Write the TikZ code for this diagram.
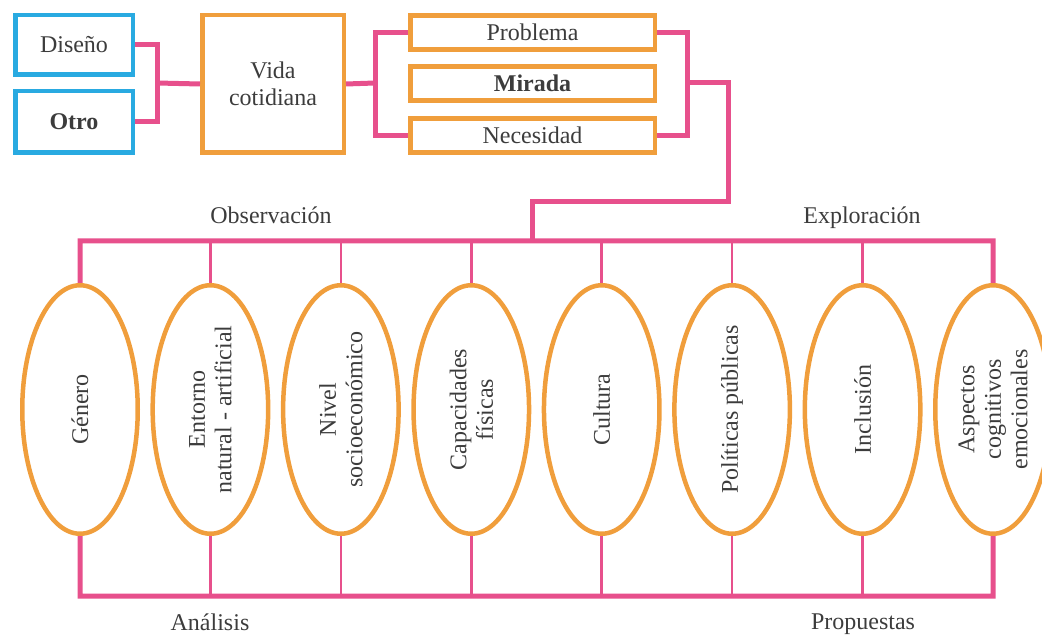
\documentclass[tikz,border=0pt]{standalone}
\usepackage{fontspec}
\setmainfont{Liberation Serif}
\usetikzlibrary{shapes.geometric}
\definecolor{rosa}{RGB}{231,80,140}
\definecolor{naranja}{RGB}{240,158,60}
\definecolor{celeste}{RGB}{41,170,225}
\definecolor{texto}{RGB}{60,60,60}

\begin{document}
\begin{tikzpicture}[x=1pt, y=-1pt,
    every node/.style={text=texto, font=\fontsize{24}{26.5}\selectfont, inner sep=0pt},
    cajaazul/.style={draw=celeste, line width=4.5pt, minimum width=117.5pt},
    caja/.style={draw=naranja, line width=4.5pt, minimum width=244.5pt, minimum height=34pt},
    ovalo/.style={ellipse, draw=naranja, line width=4.5pt, minimum width=248.5pt, minimum height=115.5pt, rotate=90, align=center},
    linea/.style={draw=rosa, line width=5pt},
    rama/.style={draw=rosa, line width=2.5pt}]
            \useasboundingbox (0,0) rectangle (1042,636);

            \node [cajaazul, minimum height=59.5pt] (dis) at (74,45) {Diseño};
            \node [cajaazul, minimum height=61.5pt] (otro) at (74,122) {\textbf{Otro}};
            \node [draw=naranja, line width=4.5pt, minimum width=141.5pt, minimum height=137.5pt, align=center] (vida) at (273,84) {Vida\\cotidiana};
            \node [caja] (prob) at (532.5,32.5) {Problema};
            \node [caja] (mir) at (532.5,83.5) {\textbf{Mirada}};
            \node [caja] (nec) at (532.5,135.5) {Necesidad};

            \coordinate (J1) at (157,83);
            \coordinate (J2) at (375,83);
            \coordinate (J3) at (687,83);
            \coordinate (R1) at (728,83);
            \coordinate (R2) at (532,202);
            \coordinate (TL) at (80,241);
            \coordinate (TR) at (993,241);
            \coordinate (BL) at (80,596);
            \coordinate (BR) at (993,596);

            \foreach \i/\t in {1/{Género}, 2/{Entorno\\natural - artificial}, 3/{Nivel\\socioeconómico}, 4/{Capacidades\\físicas}, 5/{Cultura}, 6/{Políticas públicas}, 7/{Inclusión}, 8/{Aspectos\\cognitivos\\emocionales}} {
                \pgfmathsetmacro{\x}{80 + (\i - 1)*130.43}
                \node [ovalo] (E\i) at (\x, 409.5) {\t};
            }

            \draw [linea] (dis.east) -| (J1) |- (otro.east);
            \draw [linea] (J1) -- (vida.west);
            \draw [linea] (vida.east) -- (J2);
            \draw [linea] (prob.west) -| (J2) |- (nec.west);
            \draw [linea] (prob.east) -| (J3) |- (nec.east);
            \draw [linea] (J3) -- (R1) |- (R2) -- (R2 |- TL);

            \draw [linea] (E1.east) -- (TL) -- (TR) -- (E8.east);
            \draw [linea] (E1.west) -- (BL) -- (BR) -- (E8.west);
            \foreach \j in {2,...,7} {
                \draw [rama] (E\j.east) -- (E\j.east |- TL);
                \draw [rama] (E\j.west) -- (E\j.west |- BL);
            }

            \node [anchor=base] (obs) at (271,224) {Observación};
            \node [anchor=base] (expl) at (862,224) {Exploración};
            \node [anchor=base] (anal) at (210,630) {Análisis};
            \node [anchor=base] (prop) at (863,629) {Propuestas};

        \end{tikzpicture}
\end{document}
